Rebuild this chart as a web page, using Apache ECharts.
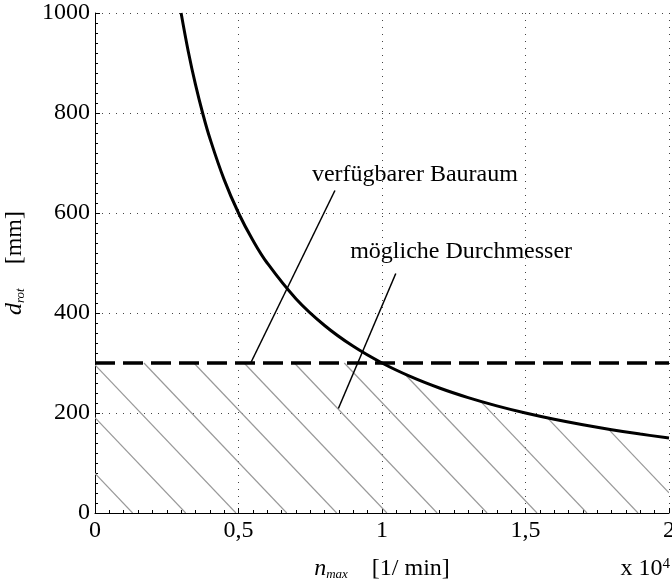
<!DOCTYPE html>
<html>
<head>
<meta charset="utf-8">
<script src="https://cdn.jsdelivr.net/npm/echarts@6/dist/echarts.min.js"></script>
<style>
  html, body { margin: 0; padding: 0; background: #fff; }
  #chart { width: 672px; height: 582px; }
</style>
</head>
<body>
<div id="chart"></div>
<script>
// n_max in 1e4 1/min, d_rot in mm
const nVals = [0.3, 0.325, 0.35, 0.375, 0.4, 0.45, 0.5, 0.55, 0.6, 0.7, 0.8, 0.9, 1.0, 1.1, 1.2, 1.3, 1.4, 1.5, 1.6, 1.7, 1.8, 1.9, 2.0];
const dVals = [1000, 923.1, 857.1, 800, 750, 666.7, 600, 545.5, 500, 428.6, 375, 333.3, 300, 272.7, 250, 230.8, 214.3, 200, 187.5, 176.5, 166.7, 157.9, 150];

// available space limit
const limitLine = [[0, 300], [2, 300]];

// hatching: x where each hatch line meets d=0, and its steepness (mm per 1e4 1/min)
const hatchBottoms = [0.131, 0.316, 0.491, 0.668, 0.842, 1.017, 1.192, 1.366, 1.540, 1.714, 1.892, 2.067];
const hatchSlope = 603;

// annotations
const annoText = ['verfügbarer Bauraum', 'mögliche Durchmesser'];
const annoPos = [[0.756, 676], [0.889, 522]];
const leader1 = [[0.836, 645], [0.5425, 300]];
const leader2 = [[1.048, 479], [0.848, 209]];

const xTicks = { min: 0, max: 2, interval: 0.5 };
const yTicks = { min: 0, max: 1000, interval: 200 };

const FONT = 'Liberation Serif';

function curveAt(x) {
  if (x < nVals[0]) return Infinity;
  for (let i = 1; i < nVals.length; i++) {
    if (x <= nVals[i]) {
      const t = (x - nVals[i - 1]) / (nVals[i] - nVals[i - 1]);
      return dVals[i - 1] + t * (dVals[i] - dVals[i - 1]);
    }
  }
  return dVals[dVals.length - 1];
}

function limitAt(x) {
  return Math.min(limitLine[0][1], curveAt(x));
}

function renderHatch(params, api) {
  const b = api.value(0);
  const xEnd = Math.min(b, xTicks.max);
  const xStart = Math.max(0, b - limitLine[0][1] / hatchSlope);
  let x0 = null;
  for (let x = xStart; x <= xEnd; x += 0.0005) {
    if (hatchSlope * (b - x) <= limitAt(x) + 0.5) { x0 = x; break; }
  }
  if (x0 === null) return;
  const p0 = api.coord([x0, hatchSlope * (b - x0)]);
  const p1 = api.coord([xEnd, hatchSlope * (b - xEnd)]);
  return {
    type: 'line',
    shape: { x1: p0[0], y1: p0[1], x2: p1[0], y2: p1[1] },
    style: { stroke: '#999999', lineWidth: 1.2 }
  };
}

function renderText(params, api) {
  const p = api.coord([api.value(0), api.value(1)]);
  return {
    type: 'text',
    x: p[0], y: p[1],
    style: {
      text: annoText[params.dataIndex],
      font: '24px "' + FONT + '"',
      fill: '#000',
      align: 'left',
      verticalAlign: 'middle'
    }
  };
}

const chart = echarts.init(document.getElementById('chart'), null, { renderer: 'canvas' });

const axisCommon = {
  type: 'value',
  axisLine: { show: true, onZero: false, lineStyle: { color: '#000', width: 1 } },
  axisTick: { show: true, inside: true, length: 5, lineStyle: { color: '#000' } },
  minorTick: { show: true, splitNumber: 10, length: 3, lineStyle: { color: '#000' } },
  splitLine: { show: true, lineStyle: { color: '#444', width: 1, type: [1, 6] } },
  axisLabel: {
    color: '#000',
    fontFamily: FONT,
    fontSize: 24,
    formatter: v => String(v).replace('.', ',')
  },
  nameTextStyle: {
    color: '#000',
    fontFamily: FONT,
    fontSize: 24,
    rich: {
      it: { fontFamily: FONT, fontStyle: 'italic', fontSize: 24, verticalAlign: 'bottom' },
      sub: { fontFamily: FONT, fontStyle: 'italic', fontSize: 13, verticalAlign: 'bottom' },
      n: { fontFamily: FONT, fontSize: 24, verticalAlign: 'bottom' }
    }
  }
};

chart.setOption({
  animation: false,
  backgroundColor: '#fff',
  grid: { left: 95, right: 3, top: 13, bottom: 69, containLabel: false, outerBoundsMode: 'none' },
  xAxis: Object.assign({}, axisCommon, {
    min: xTicks.min, max: xTicks.max, interval: xTicks.interval,
    axisLabel: Object.assign({}, axisCommon.axisLabel, { margin: 6 }),
    name: '{it|n}{sub|max}    {n|[1/ min]}',
    nameLocation: 'middle',
    nameGap: 44
  }),
  yAxis: Object.assign({}, axisCommon, {
    min: yTicks.min, max: yTicks.max, interval: yTicks.interval,
    axisLabel: Object.assign({}, axisCommon.axisLabel, { margin: 5 }),
    name: '{it|d}{sub|rot}    {n|[mm]}',
    nameLocation: 'middle',
    nameRotate: 90,
    nameGap: 68
  }),
  graphic: [{
    type: 'text',
    right: 2,
    bottom: 1,
    style: {
      rich: {
        a: { fontFamily: FONT, fontSize: 24, fill: '#000' },
        sup: { fontFamily: FONT, fontSize: 15, fill: '#000', verticalAlign: 'top', padding: [0, 0, 10, 0] }
      },
      text: '{a|x 10}{sup|4}'
    }
  }],
  series: [
    {
      type: 'custom',
      renderItem: renderHatch,
      data: hatchBottoms.map(b => [b]),
      clip: true,
      silent: true,
      z: 2
    },
    {
      type: 'line',
      data: limitLine,
      symbol: 'none',
      lineStyle: { color: '#000', width: 3.5, type: [20, 8] },
      z: 3
    },
    {
      type: 'line',
      data: nVals.map((n, i) => [n, dVals[i]]),
      symbol: 'none',
      smooth: 0.4,
      lineStyle: { color: '#000', width: 3 },
      z: 4
    },
    {
      type: 'line',
      data: leader1,
      symbol: 'none',
      lineStyle: { color: '#000', width: 1.5 },
      z: 5
    },
    {
      type: 'line',
      data: leader2,
      symbol: 'none',
      lineStyle: { color: '#000', width: 1.5 },
      z: 5
    },
    {
      type: 'custom',
      renderItem: renderText,
      data: annoPos,
      silent: true,
      z: 6
    }
  ]
});
</script>
</body>
</html>
